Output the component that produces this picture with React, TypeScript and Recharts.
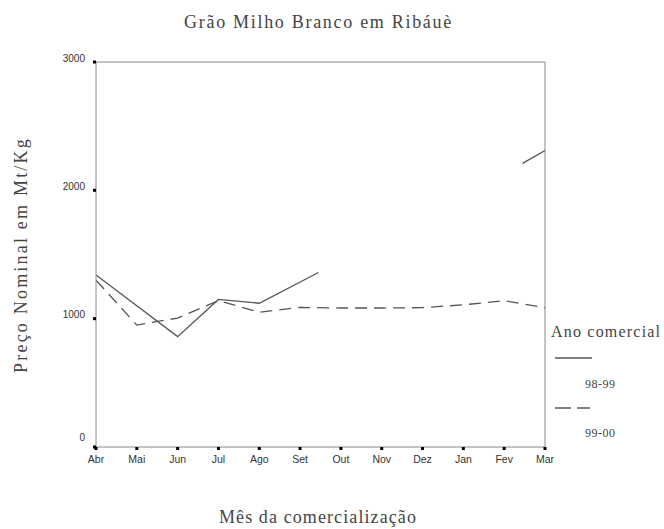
import React from 'react'
import { LineChart, Line, XAxis, YAxis, ReferenceLine } from 'recharts'

const months = ['Abr', 'Mai', 'Jun', 'Jul', 'Ago', 'Set', 'Out', 'Nov', 'Dez', 'Jan', 'Fev', 'Mar']
const yTicks = [0, 1000, 2000, 3000]

// 98-99: two visible pieces (SPSS draws half segments next to missing months)
const pos9899a = [0, 2, 3, 4, 5.45]
const val9899a = [1340, 860, 1150, 1120, 1360]
const pos9899b = [10.45, 11]
const val9899b = [2210, 2310]

// 99-00: every month
const val9900 = [1300, 950, 1005, 1140, 1050, 1088, 1083, 1083, 1086, 1108, 1140, 1086]

const seg1 = pos9899a.map((x, i) => ({ x, v: val9899a[i] }))
const seg2 = pos9899b.map((x, i) => ({ x, v: val9899b[i] }))
const dashed = val9900.map((v, i) => ({ x: i, v }))

const serif = '"Liberation Serif", "DejaVu Serif", serif'
const sans = '"Liberation Sans", Arial, sans-serif'
const ink = '#555'
const txt = '#444'

const YTick = (props: any) => {
  const { x, y, payload } = props
  const lift = payload.value === 0 ? -10 : -4
  return (
    <text x={x - 6} y={y + lift} dy="0.355em" textAnchor="end" fontSize={10} fontFamily={sans} fill="#333">
      {payload.value}
    </text>
  )
}

const XTick = (props: any) => {
  const { x, y, payload } = props
  return (
    <text x={x} y={y + 7} dy="0.355em" textAnchor="middle" fontSize={10.5} fontFamily={sans} fill="#333">
      {months[payload.value]}
    </text>
  )
}

export default function App() {
  return (
    <div style={{ position: 'absolute', left: 0, top: 0, width: 664, height: 529, background: '#fff', fontFamily: serif, overflow: 'hidden' }}>
      <LineChart width={664} height={529} margin={{ top: 62, right: 119, bottom: 52, left: 0 }}>
        <XAxis
          dataKey="x"
          type="number"
          domain={[0, 11]}
          ticks={months.map((_, i) => i)}
          allowDataOverflow
          height={30}
          stroke="#888"
          tickLine={{ stroke: '#000', strokeWidth: 3 }}
          tickSize={3}
          tick={<XTick />}
        />
        <YAxis
          type="number"
          domain={[0, 3000]}
          ticks={yTicks}
          width={96}
          stroke="#888"
          tickLine={{ stroke: '#000', strokeWidth: 3 }}
          tickSize={3}
          tick={<YTick />}
        />
        <ReferenceLine y={3000} stroke="#888" />
        <ReferenceLine x={11} stroke="#888" />
        <Line data={seg1} dataKey="v" stroke={ink} strokeWidth={1.3} dot={false} isAnimationActive={false} />
        <Line data={seg2} dataKey="v" stroke={ink} strokeWidth={1.3} dot={false} isAnimationActive={false} />
        <Line data={dashed} dataKey="v" stroke={ink} strokeWidth={1.3} strokeDasharray="12 7" dot={false} isAnimationActive={false} />
      </LineChart>

      <div style={{ position: 'absolute', left: 0, width: 637, top: 12, textAlign: 'center', fontSize: 18, letterSpacing: 1.7, color: txt, whiteSpace: 'nowrap' }}>
        Grão Milho Branco em Ribáuè
      </div>
      <div style={{ position: 'absolute', left: 0, width: 636, top: 507, textAlign: 'center', fontSize: 18, letterSpacing: 1.1, color: txt, whiteSpace: 'nowrap' }}>
        Mês da comercialização
      </div>
      <div
        style={{
          position: 'absolute', left: 21, top: 255, width: 300, marginLeft: -150, marginTop: -11,
          textAlign: 'center', fontSize: 18, letterSpacing: 2.2, lineHeight: '22px', color: txt,
          transform: 'rotate(-90deg)', whiteSpace: 'nowrap',
        }}
      >
        Preço Nominal em Mt/Kg
      </div>

      <div style={{ position: 'absolute', left: 551, top: 323, fontSize: 16, letterSpacing: 1.2, color: txt, whiteSpace: 'nowrap' }}>Ano comercial</div>
      <svg style={{ position: 'absolute', left: 550, top: 350 }} width={50} height={70}>
        <line x1={5} x2={42} y1={8} y2={8} stroke={ink} strokeWidth={1.3} />
        <line x1={5} x2={40} y1={58} y2={58} stroke={ink} strokeWidth={1.3} strokeDasharray="16 6" />
      </svg>
      <div style={{ position: 'absolute', left: 585, top: 377, fontSize: 12, letterSpacing: 0.5, color: txt }}>98-99</div>
      <div style={{ position: 'absolute', left: 585, top: 426, fontSize: 12, letterSpacing: 0.5, color: txt }}>99-00</div>
    </div>
  )
}
